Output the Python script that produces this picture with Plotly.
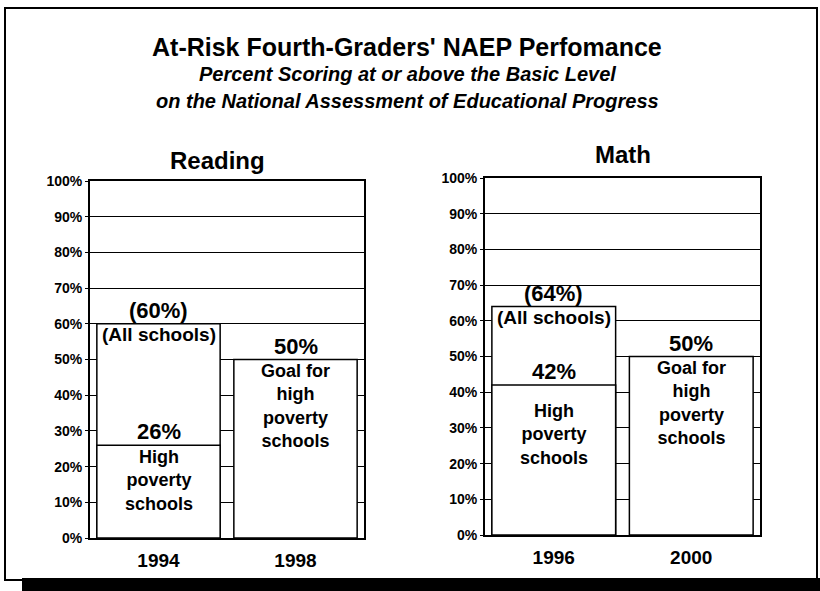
import plotly.graph_objects as go

# data
reading_years = ["1994", "1998"]
reading_all = [60, None]
reading_high = [26, None]
reading_goal = [None, 50]

math_years = ["1996", "2000"]
math_all = [64, None]
math_high = [42, None]
math_goal = [None, 50]

ticks = [0, 10, 20, 30, 40, 50, 60, 70, 80, 90, 100]
tick_text = [f"{t}%" for t in ticks]

FONT = "Liberation Sans, Arial, sans-serif"
W, H = 820, 591


def px(x):
    return x / W


def py(y):
    return 1 - y / H


fig = go.Figure()


def add_panel(xa, ya, years, all_vals, high_vals, goal_vals, high_shift):
    for vals in (all_vals, high_vals, goal_vals):
        fig.add_trace(go.Bar(
            x=years, y=vals, width=0.9, xaxis=xa, yaxis=ya,
            marker=dict(color="white", line=dict(color="black", width=1.5)),
            showlegend=False, hoverinfo="skip",
        ))
    a, h, g = all_vals[0], high_vals[0], goal_vals[1]
    # annotation x uses the category index on a category axis
    labels = [
        (0, a, f"({a}%)", "bottom", 22, -1),
        (0, a, "(All schools)", "top", 19, 2),
        (0, h, f"{h}%", "bottom", 22, -1),
        (0, h, "High<br>poverty<br>schools", "top", 18, high_shift),
        (1, g, f"{g}%", "bottom", 22, -1),
        (1, g, "Goal for<br>high<br>poverty<br>schools", "top", 18, 1),
    ]
    for x, y, t, anchor, size, shift in labels:
        fig.add_annotation(
            x=x, y=y, xref=xa, yref=ya, text=t, showarrow=False,
            xanchor="center", yanchor=anchor, yshift=shift,
            font=dict(family=FONT, size=size, color="black", weight="bold"),
        )


add_panel("x", "y", reading_years, reading_all, reading_high, reading_goal, 0)
add_panel("x2", "y2", math_years, math_all, math_high, math_goal, -14)

yaxis_style = dict(
    range=[0, 100], tickvals=ticks, ticktext=tick_text,
    showgrid=True, gridcolor="black", gridwidth=1.2,
    showline=True, linecolor="black", linewidth=2, mirror=True,
    ticks="outside", ticklen=3, tickcolor="black",
    tickfont=dict(family=FONT, size=14, color="black", weight="bold"),
    zeroline=False, fixedrange=True, automargin=False,
)
xaxis_style = dict(
    type="category", range=[-0.5, 1.5],
    showline=True, linecolor="black", linewidth=2, mirror=True,
    ticks="", ticklabelstandoff=4,
    tickfont=dict(family=FONT, size=19, color="black", weight="bold"),
    fixedrange=True, automargin=False,
)

fig.update_layout(
    width=W, height=H, autosize=False,
    margin=dict(l=0, r=0, t=0, b=0, pad=0),
    paper_bgcolor="white", plot_bgcolor="white",
    barmode="overlay",
    xaxis=dict(domain=[px(90), px(364)], anchor="y", **xaxis_style),
    yaxis=dict(domain=[py(538), py(181)], anchor="x", **yaxis_style),
    xaxis2=dict(domain=[px(485), px(760)], anchor="y2", **xaxis_style),
    yaxis2=dict(domain=[py(535), py(178)], anchor="x2", **yaxis_style),
)

# titles
titles = [
    (407, 47, "At-Risk Fourth-Graders' NAEP Perfomance", 25, "normal"),
    (407, 74, "Percent Scoring at or above the Basic Level", 20, "italic"),
    (407, 101, "on the National Assessment of Educational Progress", 20, "italic"),
    (217, 160, "Reading", 24, "normal"),
    (623, 155, "Math", 24, "normal"),
]
for x, y, t, size, style in titles:
    fig.add_annotation(x=px(x), y=py(y), xref="paper", yref="paper", showarrow=False,
                       xanchor="center", yanchor="middle", text=t,
                       font=dict(family=FONT, size=size, color="black",
                                 weight="bold", style=style))

# frame and its dark shadow
fig.add_shape(type="rect", xref="paper", yref="paper",
              x0=px(5), x1=px(817), y0=py(580), y1=py(8),
              line=dict(color="black", width=2), fillcolor="rgba(0,0,0,0)", layer="below")
fig.add_shape(type="rect", xref="paper", yref="paper",
              x0=px(22), x1=1, y0=0, y1=py(578),
              line=dict(width=0), fillcolor="black")

fig.write_html("out.html", config={"displayModeBar": False},
               post_script="document.body.style.margin='0';")
